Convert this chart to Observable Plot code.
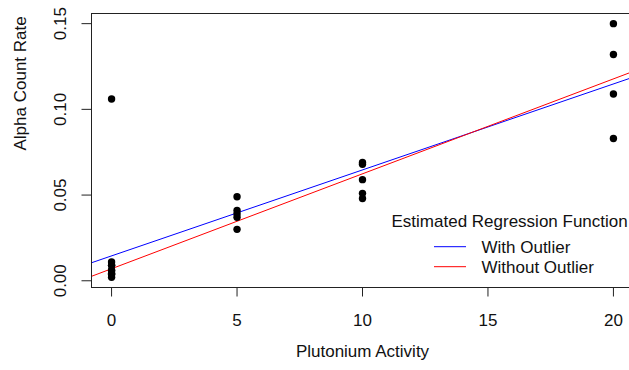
<!DOCTYPE html>
<html>
<head>
<meta charset="utf-8">
<script src="https://cdn.jsdelivr.net/npm/d3@7"></script>
<script src="https://cdn.jsdelivr.net/npm/@observablehq/plot@0.6"></script>
<style>
  html, body { margin: 0; padding: 0; background: #fff; overflow: hidden; width: 629px; height: 370px; }
  #chart { width: 640px; }
  svg { font-family: "Liberation Sans", Arial, sans-serif; display: block; max-width: none !important; width: 640px !important; height: 370px !important; }
</style>
</head>
<body>
<div id="chart"></div>
<script>
// Plutonium activity (x) and alpha count rate (y)
const plutoniumActivity = [20, 0, 10, 5, 0, 0, 5, 20, 10, 0, 0, 10, 0, 20, 5, 5, 20, 0, 0, 10, 10, 0, 5, 0];
const alphaCountRate = [0.150, 0.004, 0.069, 0.030, 0.011, 0.004, 0.041, 0.109, 0.068, 0.009, 0.009, 0.048,
                        0.006, 0.083, 0.037, 0.039, 0.132, 0.004, 0.006, 0.059, 0.051, 0.002, 0.049, 0.106];
const outlierIndex = [23];
const xTicks = [0, 5, 10, 15, 20];
const yTicks = [0.00, 0.05, 0.10, 0.15];
const seriesNames = ["With Outlier", "Without Outlier"];
const seriesColors = ["blue", "red"];
const legendTitle = "Estimated Regression Function";
const xTitle = "Plutonium Activity";
const yTitle = "Alpha Count Rate";

const data = plutoniumActivity.map((x, i) => ({x, y: alphaCountRate[i]}));

function fit(rows) {
  const mx = d3.mean(rows, d => d.x), my = d3.mean(rows, d => d.y);
  const sxy = d3.sum(rows, d => (d.x - mx) * (d.y - my));
  const sxx = d3.sum(rows, d => (d.x - mx) ** 2);
  const b = sxy / sxx;
  return {a: my - b * mx, b};
}
const fits = [fit(data), fit(data.filter((d, i) => !outlierIndex.includes(i)))];

// R-style 4% axis extension
const xExt = d3.extent(plutoniumActivity), yExt = d3.extent(alphaCountRate);
const xPad = (xExt[1] - xExt[0]) * 0.04, yPad = (yExt[1] - yExt[0]) * 0.04;
const xDomain = [xExt[0] - xPad, xExt[1] + xPad];
const yDomain = [yExt[0] - yPad, yExt[1] + yPad];

const lines = fits.map((f, i) => ({
  x1: xDomain[0], x2: xDomain[1],
  y1: f.a + f.b * xDomain[0], y2: f.a + f.b * xDomain[1],
  color: seriesColors[i]
}));

const FS = 17;
const chart = Plot.plot({
  width: 640,
  height: 370,
  marginLeft: 91,
  marginRight: 7,
  marginTop: 13,
  marginBottom: 83,
  style: {fontFamily: "'Liberation Sans', Arial, sans-serif", fontSize: FS + "px", background: "white", overflow: "visible", maxWidth: "none"},
  x: {domain: xDomain},
  y: {domain: yDomain},
  marks: [
    Plot.axisX({ticks: xTicks, tickSize: 9.5, tickPadding: 16.5, fontSize: FS, label: null, stroke: "#222", fill: "#111"}),
    Plot.axisY({ticks: yTicks, tickSize: 9.5, tickFormat: () => "", label: null, stroke: "#222"}),
    Plot.text(yTicks, {x: xDomain[0], y: d => d, text: d => d.toFixed(2), rotate: -90, dx: -30.5, fontSize: FS, fill: "#111"}),
    Plot.text([xTitle], {frameAnchor: "bottom", dy: 69, fontSize: FS, fill: "#111"}),
    Plot.text([yTitle], {frameAnchor: "left", rotate: -90, dx: -71, fontSize: FS, fill: "#111"}),
    Plot.link(lines, {x1: "x1", y1: "y1", x2: "x2", y2: "y2", stroke: "color", strokeWidth: 1, clip: true}),
    Plot.dot(data, {x: "x", y: "y", r: 3.7, fill: "black", stroke: null}),
    Plot.frame({stroke: "#222", strokeWidth: 1})
  ]
});
document.getElementById("chart").appendChild(chart);

// Legend (R-style, no box)
const svg = d3.select(chart);
const lg = svg.append("g").attr("font-size", FS).attr("fill", "#111").attr("text-anchor", "start");
lg.append("text").attr("x", 391.5).attr("y", 226.5).text(legendTitle);
seriesNames.forEach((name, i) => {
  const cy = 246.7 + i * 20;
  lg.append("line").attr("x1", 434).attr("x2", 466).attr("y1", cy).attr("y2", cy)
    .attr("stroke", seriesColors[i]).attr("stroke-width", 1);
  lg.append("text").attr("x", 481.5).attr("y", cy).attr("dy", "0.35em").text(name);
});
</script>
</body>
</html>
